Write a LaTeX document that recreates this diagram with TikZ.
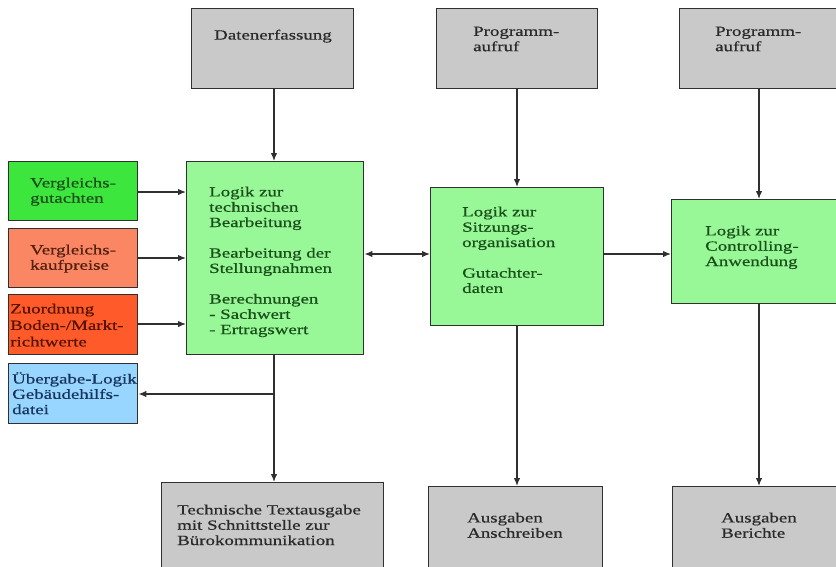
\documentclass[tikz,border=0pt]{standalone}
\usepackage{fontspec}
\setmainfont{Liberation Serif}[FakeStretch=1.35,FakeBold=0.6]
\usetikzlibrary{arrows.meta}
\definecolor{boxgray}{HTML}{C9C9C9}
\definecolor{palegr}{HTML}{98F898}
\definecolor{brightgr}{HTML}{3DE63D}
\definecolor{salmonc}{HTML}{FA8664}
\definecolor{orangec}{HTML}{FF5A2A}
\definecolor{bluec}{HTML}{99D6FF}
\definecolor{txgray}{HTML}{2A2A2A}
\definecolor{txgreen}{HTML}{1A4F1A}
\definecolor{txbrown}{HTML}{52200F}
\definecolor{txred}{HTML}{561300}
\definecolor{txblue}{HTML}{16345E}
\definecolor{linec}{HTML}{303030}
\tikzset{
  box/.style={draw=linec, line width=1.4pt, inner sep=0pt, anchor=north west},
  txt/.style={inner sep=0pt, anchor=north west, align=left,
    font=\fontsize{14}{15.3}\selectfont},
  conn/.style={draw=linec, line width=1.3pt, -{Latex[length=8pt,width=6.5pt]}},
  dconn/.style={draw=linec, line width=1.3pt, {Latex[length=8pt,width=6.5pt]}-{Latex[length=8pt,width=6.5pt]}}
}
\begin{document}
\begin{tikzpicture}[x=1pt,y=-1pt]
\useasboundingbox (0,0) rectangle (836,566);
\begin{scope}
\clip (0,0) rectangle (836,566);
% top boxes
\node[box, fill=boxgray, minimum width=162pt, minimum height=80pt] (t1) at (191,8) {};
\node[box, fill=boxgray, minimum width=161pt, minimum height=80pt] (t2) at (436,8) {};
\node[box, fill=boxgray, minimum width=170pt, minimum height=80pt] (t3) at (679,8) {};
% green logic boxes
\node[box, fill=palegr, minimum width=177pt, minimum height=193pt] (g1) at (186,161) {};
\node[box, fill=palegr, minimum width=173pt, minimum height=138pt] (g2) at (430,187) {};
\node[box, fill=palegr, minimum width=180pt, minimum height=104pt] (g3) at (671,199) {};
% left boxes
\node[box, fill=brightgr, minimum width=129pt, minimum height=59pt] (l1) at (8,161) {};
\node[box, fill=salmonc, minimum width=129pt, minimum height=59pt] (l2) at (8,228) {};
\node[box, fill=orangec, minimum width=129pt, minimum height=60pt] (l3) at (8,294) {};
\node[box, fill=bluec, minimum width=129pt, minimum height=60pt] (l4) at (8,363) {};
% bottom boxes
\node[box, fill=boxgray, minimum width=222pt, minimum height=100pt] (b1) at (161,482) {};
\node[box, fill=boxgray, minimum width=174pt, minimum height=100pt] (b2) at (428,486) {};
\node[box, fill=boxgray, minimum width=175pt, minimum height=100pt] (b3) at (672,486) {};
\end{scope}
% texts
\node[txt, text=txgray] (tt1) at (214,29.5) {Datenerfassung};
\node[txt, text=txgray] (tt2) at (473,26.5) {Programm-\\aufruf};
\node[txt, text=txgray] (tt3) at (715,26.5) {Programm-\\aufruf};
\node[txt, text=txgreen] (tg1) at (209,186.5) {Logik zur\\technischen\\Bearbeitung\\[15.3pt]Bearbeitung der\\Stellungnahmen\\[15.3pt]Berechnungen\\- Sachwert\\- Ertragswert};
\node[txt, text=txgreen] (tg2) at (462,206.5) {Logik zur\\Sitzungs-\\organisation\\[15.3pt]Gutachter-\\daten};
\node[txt, text=txgreen] (tg3) at (705,225.5) {Logik zur\\Controlling-\\Anwendung};
\node[txt, text=txgreen] (tl1) at (30,177.5) {Vergleichs-\\gutachten};
\node[txt, text=txbrown] (tl2) at (30,244.5) {Vergleichs-\\kaufpreise};
\node[txt, text=txred, font=\fontsize{14}{16.5}\selectfont] (tl3) at (10,303.5) {Zuordnung\\Boden-/Markt-\\richtwerte};
\node[txt, text=txblue] (tl4) at (12,372) {Übergabe-Logik\\Gebäudehilfs-\\datei};
\node[txt, text=txgray] (tb1) at (177,504.5) {Technische Textausgabe\\mit Schnittstelle zur\\Bürokommunikation};
\node[txt, text=txgray] (tb2) at (467,512.5) {Ausgaben\\Anschreiben};
\node[txt, text=txgray] (tb3) at (721,512.5) {Ausgaben\\Berichte};
% connectors
\coordinate (a1) at (274,0);
\coordinate (a2) at (517,0);
\coordinate (a3) at (759,0);
\draw[conn] (t1.south -| a1) -- (g1.north -| a1);
\draw[conn] (t2.south -| a2) -- (g2.north -| a2);
\draw[conn] (t3.south -| a3) -- (g3.north -| a3);
\coordinate (y1) at (0,192);
\coordinate (y2) at (0,258);
\coordinate (y3) at (0,324);
\coordinate (y4) at (0,394);
\coordinate (ym) at (0,254);
\draw[conn] (l1.east |- y1) -- (g1.west |- y1);
\draw[conn] (l2.east |- y2) -- (g1.west |- y2);
\draw[conn] (l3.east |- y3) -- (g1.west |- y3);
\draw[dconn] (g1.east |- ym) -- (g2.west |- ym);
\draw[conn] (g2.east |- ym) -- (g3.west |- ym);
\draw[conn] (g1.south -| a1) -- (b1.north -| a1);
\coordinate (br) at (274,394);
\draw[conn] (br) -- (l4.east |- y4);
\draw[conn] (g2.south -| a2) -- (b2.north -| a2);
\draw[conn] (g3.south -| a3) -- (b3.north -| a3);
\end{tikzpicture}
\end{document}
